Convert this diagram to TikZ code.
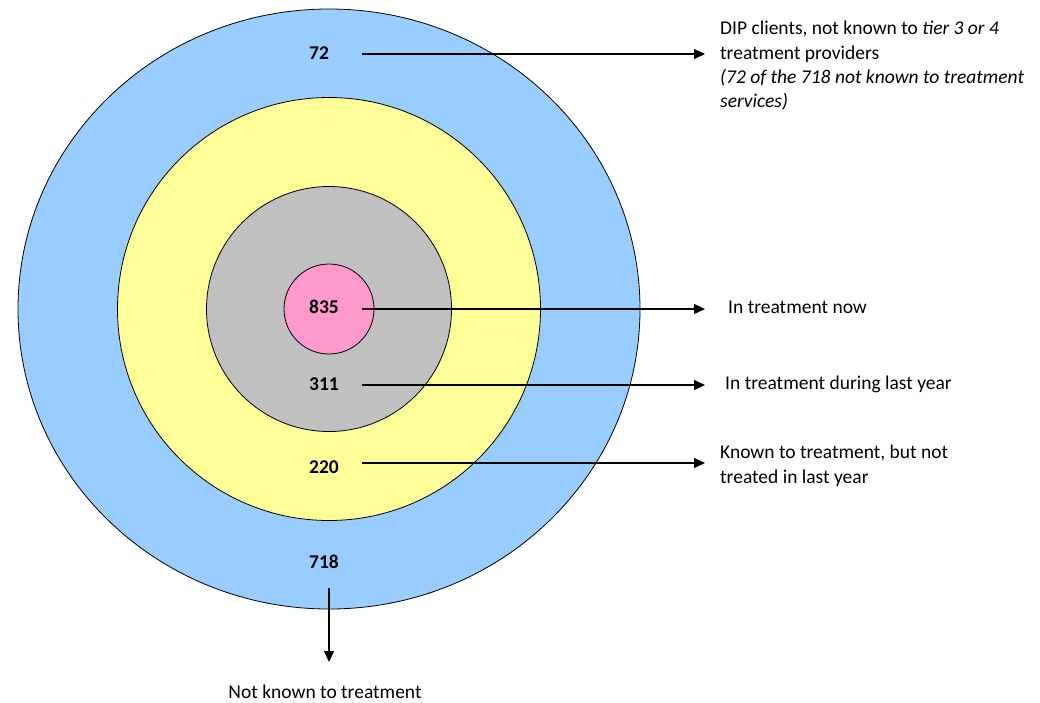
\documentclass[tikz,border=0pt]{standalone}
\usepackage{fontspec}
\setmainfont{Carlito}
\usetikzlibrary{arrows.meta,shapes.geometric}
\definecolor{ringblue}{HTML}{99CCFF}
\definecolor{ringyellow}{HTML}{FFFF99}
\definecolor{ringgrey}{HTML}{C0C0C0}
\definecolor{ringpink}{HTML}{FF99CC}
\tikzset{px/.style={x=1pt,y=-1pt,font=\fontsize{19.5}{24.4}\selectfont},
  ring/.style={draw=black,line width=.8pt,inner sep=0pt},
  num/.style={font=\fontsize{19.5}{24.4}\selectfont\bfseries,anchor=west,inner sep=0pt},
  lbl/.style={anchor=north west,align=left,inner sep=0pt},
  arr/.style={-{Triangle[length=11pt,width=10pt]},line width=1.2pt}}

\begin{document}
\begin{tikzpicture}[px]
  \useasboundingbox (0,0) rectangle (1040,702);
  % rings, outside in
  \node[ring,ellipse,fill=ringblue,minimum width=622pt,minimum height=600pt] (outer) at (329,309) {};
  \node[ring,circle,fill=ringyellow,minimum size=423pt] (known) at (329,309) {};
  \node[ring,circle,fill=ringgrey,minimum size=245pt] (lastyr) at (329,309) {};
  \node[ring,circle,fill=ringpink,minimum size=90pt] (now) at (329,309) {};
  % counts
  \node[num] (n72) at (309,53) {72};
  \node[num] (n835) at (309,307) {835};
  \node[num] (n311) at (309,384) {311};
  \node[num] (n220) at (309,467) {220};
  \node[num] (n718) at (309,562) {718};
  % texts
  \node[lbl] (t72) at (720,21) {DIP clients, not known to \textit{tier 3 or 4}\\treatment providers\\\textit{(72 of the 718 not known to treatment}\\\textit{services)}};
  \node[lbl,anchor=west] (t835) at (728,307) {In treatment now};
  \node[lbl,anchor=west] (t311) at (725,384) {In treatment during last year};
  \node[lbl] (t220) at (720,445) {Known to treatment, but not\\treated in last year};
  \node (t718) at (325,692) {Not known to treatment};
  % arrows
  \coordinate (tip) at (705,0);
  \foreach \n/\y in {72/54,835/309,311/385,220/463}{
    \coordinate (a\n) at (362,\y);
    \draw[arr] (a\n) -- (a\n -| tip);}
  \coordinate (a718) at (329,588);
  \draw[arr] (a718) -- (a718 |- 0,662);
\end{tikzpicture}
\end{document}
